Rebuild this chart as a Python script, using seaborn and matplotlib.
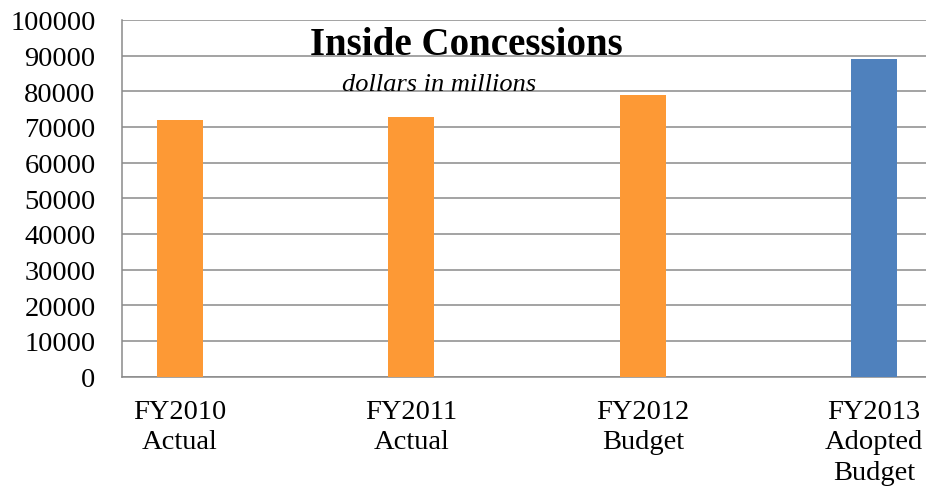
import numpy as np
import pandas as pd
import matplotlib
matplotlib.use("Agg")
import matplotlib.pyplot as plt
import seaborn as sns

categories = ["FY2010\nActual", "FY2011\nActual", "FY2012\nBudget", "FY2013\nAdopted\nBudget"]
values = [72000, 72800, 79000, 89000]
bar_colors = ["#FD9935", "#FD9935", "#FD9935", "#4F81BD"]
title = "Inside Concessions"
subtitle = "dollars in millions"

sns.set_theme(style="white")
plt.rcParams["font.family"] = ["Liberation Serif", "DejaVu Serif"]
plt.rcParams["text.color"] = "black"
plt.rcParams["xtick.labelcolor"] = "black"
plt.rcParams["ytick.labelcolor"] = "black"

df = pd.DataFrame({"cat": categories, "val": values})
# spacer slots between the real categories (Excel-style wide gaps)
order = [categories[0], " ", categories[1], "  ", categories[2], "   ", categories[3]]

fig = plt.figure(figsize=(9.26, 4.89), dpi=100)
ax = fig.add_axes([122 / 926, 111.5 / 489, 810 / 926, 356.5 / 489])

sns.barplot(data=df, x="cat", y="val", hue="cat", hue_order=categories,
            palette=bar_colors, order=order, width=0.4, legend=False,
            saturation=1, linewidth=0, ax=ax, zorder=3)

grid_c = "#8A8A8A"
ax.set_ylim(0, 100000)
ax.set_xlim(-0.5, 6.5)
ax.set_yticks(np.arange(0, 100001, 10000))
ax.set_yticklabels([str(v) for v in range(0, 100001, 10000)], fontsize=20.5)
ax.yaxis.grid(True, color=grid_c, linewidth=1.1, zorder=0)
ax.set_axisbelow(True)

ax.set_xticks([0, 2, 4, 6])
ax.set_xticklabels(categories, fontsize=20.5, linespacing=1.3)
ax.set_xticks(np.arange(-0.5, 7.0, 1.0), minor=True)
ax.tick_params(axis="x", which="major", length=0, pad=16)
ax.tick_params(axis="x", which="minor", length=7, width=1.1, color=grid_c, direction="out")
ax.tick_params(axis="y", which="major", length=7, width=1.1, color=grid_c, direction="out", pad=12)
ax.set_xlabel("")
ax.set_ylabel("")

for s in ["top", "right"]:
    ax.spines[s].set_visible(False)
for s in ["left", "bottom"]:
    ax.spines[s].set_color(grid_c)
    ax.spines[s].set_linewidth(1.1)

fig.text(466 / 926, 1 - 55 / 489, title, ha="center", va="baseline",
         fontsize=28, fontweight="bold")
fig.text(439 / 926, 1 - 90.7 / 489, subtitle, ha="center", va="baseline",
         fontsize=19, style="italic")

fig.savefig("out.png", dpi=100)
